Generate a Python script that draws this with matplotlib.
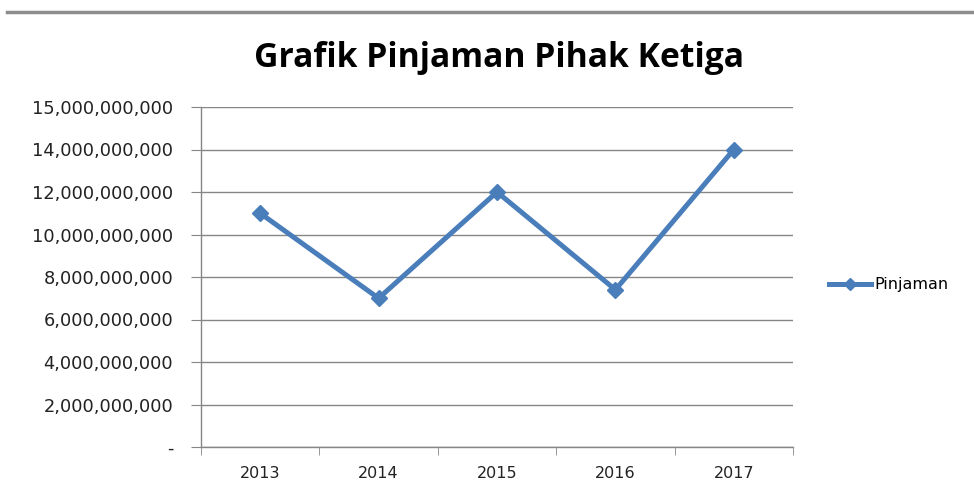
import matplotlib
matplotlib.use("Agg")
import matplotlib.pyplot as plt
from matplotlib.lines import Line2D

years = ["2013", "2014", "2015", "2016", "2017"]
pinjaman = [11.0e9, 7.0e9, 12.0e9, 7.4e9, 14.0e9]

y_ticks = [0, 2e9, 4e9, 6e9, 8e9, 10e9, 12e9, 14e9, 16e9]
y_labels = ["-", "2,000,000,000", "4,000,000,000", "6,000,000,000",
            "8,000,000,000", "10,000,000,000", "12,000,000,000",
            "14,000,000,000", "15,000,000,000"]

blue = "#4a7ebb"
grid = "#868686"

fig = plt.figure(figsize=(9.74, 4.95), dpi=100)
ax = fig.add_axes([201 / 974, 1 - 447 / 495, 592 / 974, 340 / 495])

x = range(len(years))
ax.plot(x, pinjaman, color=blue, lw=3.6, marker="D", markersize=8.5,
        markeredgecolor=blue, label="Pinjaman", zorder=3)

ax.set_xlim(-0.5, len(years) - 0.5)
ax.set_ylim(y_ticks[0], y_ticks[-1])
ax.set_yticks(y_ticks)
ax.set_yticklabels(y_labels)
ax.set_xticks(x)
ax.set_xticklabels(years)
ax.set_xticks([i - 0.5 for i in range(len(years) + 1)], minor=True)

ax.grid(axis="y", color=grid, lw=1)
ax.set_axisbelow(True)
for side in ["top", "right"]:
    ax.spines[side].set_visible(False)
for side in ["left", "bottom"]:
    ax.spines[side].set_color(grid)
    ax.spines[side].set_linewidth(1)

ax.tick_params(axis="y", length=7, color=grid, labelsize=12.8, pad=13,
               labelcolor="#222222")
ax.tick_params(axis="x", which="major", length=0, labelsize=11.5, pad=14,
               labelcolor="#222222")
ax.tick_params(axis="x", which="minor", length=6, color=grid)

fig.text(0.512, 0.882, "Grafik Pinjaman Pihak Ketiga", ha="center", va="center",
         fontsize=24.2, fontweight="bold", family="Open Sans")

handle = Line2D([], [], color=blue, lw=3.6, marker="D", markersize=6,
                markeredgecolor=blue)
fig.legend([handle], ["Pinjaman"], loc="center left",
           bbox_to_anchor=(815 / 974, 1 - 285 / 495), frameon=False,
           fontsize=11.5, handlelength=2.6, handletextpad=0.2)

fig.add_artist(Line2D([7 / 974, 1], [1 - 12 / 495] * 2, color="#8c8c8c", lw=2.5))

fig.savefig("out.png", dpi=100, facecolor="white")
